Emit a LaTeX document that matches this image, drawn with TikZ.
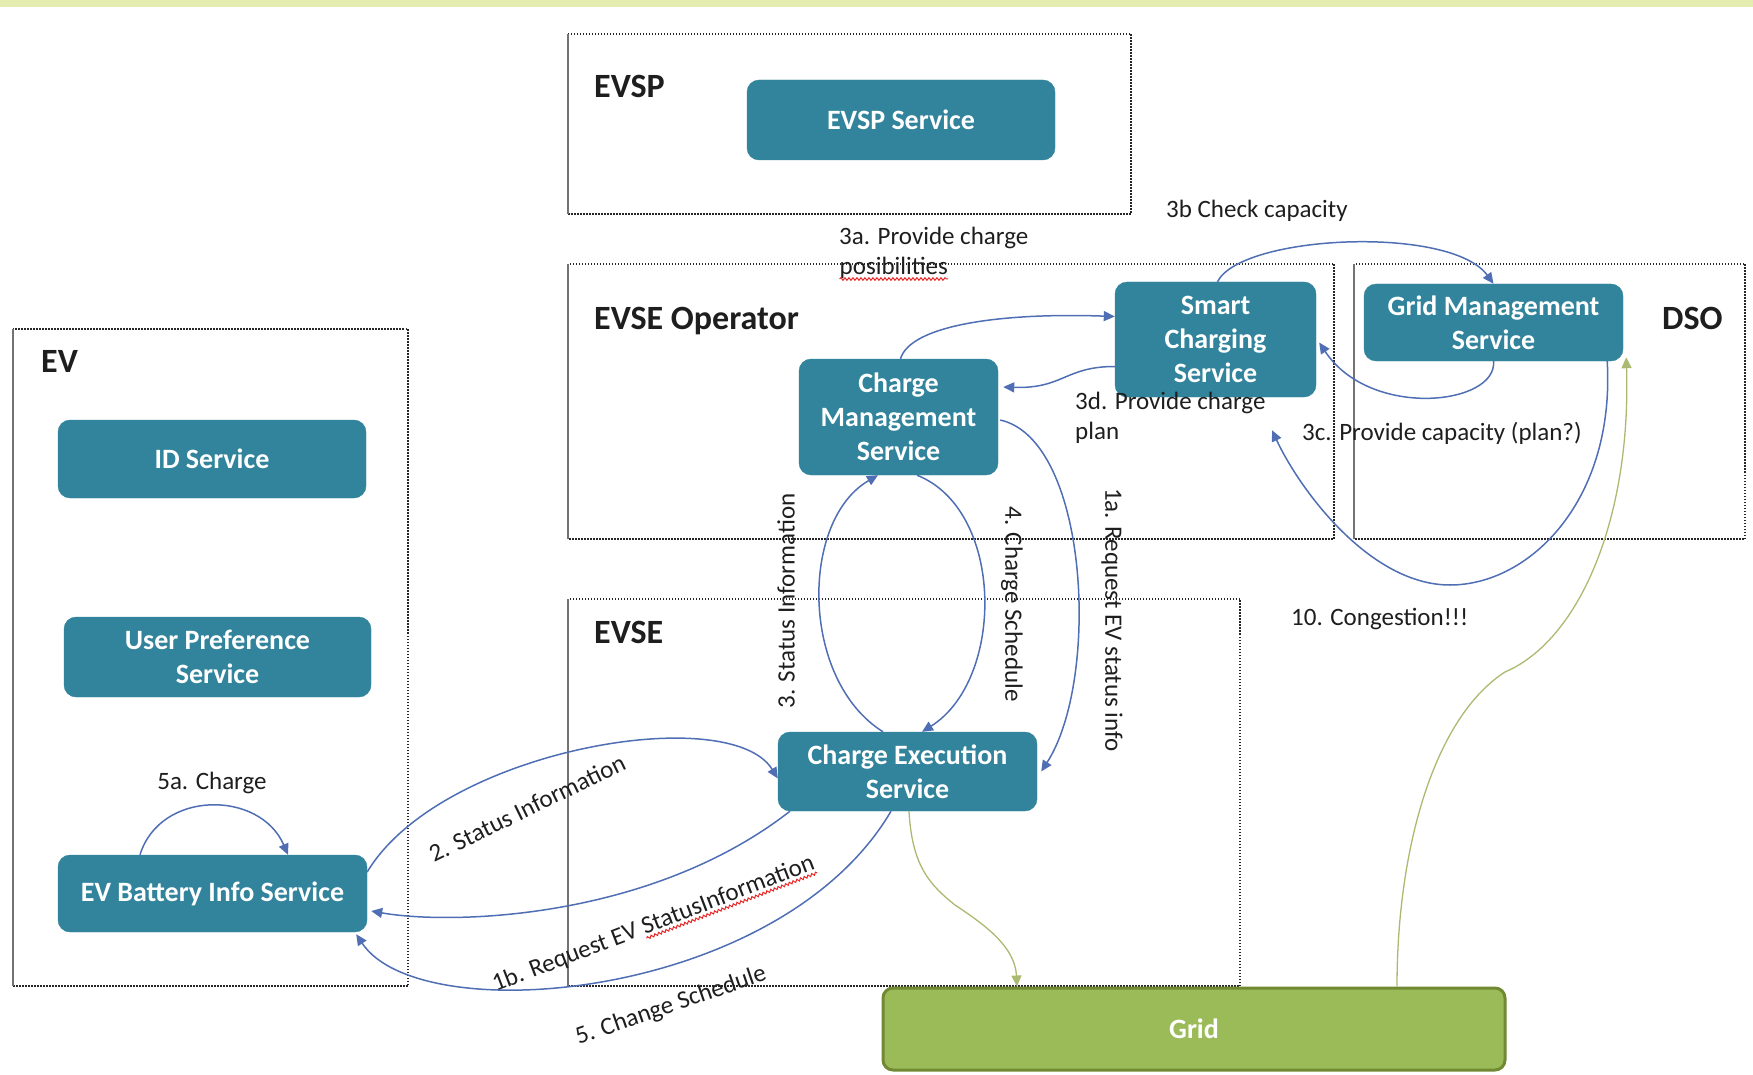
\documentclass[tikz,border=0pt]{standalone}
\usepackage{fontspec}
\setmainfont{Carlito}
\usetikzlibrary{arrows.meta,decorations.pathmorphing}
\definecolor{svcteal}{RGB}{49,132,155}
\definecolor{gridfill}{RGB}{155,187,89}
\definecolor{griddraw}{RGB}{113,137,51}
\definecolor{flowblue}{RGB}{80,110,180}
\definecolor{flowgreen}{RGB}{170,186,112}
\definecolor{bandgreen}{RGB}{228,236,176}
\definecolor{txtdark}{RGB}{30,30,30}
\definecolor{wavyred}{RGB}{230,40,40}
\newcommand\svcfont{\fontsize{28}{34}\selectfont\bfseries}
\newcommand\hdrfont{\fontsize{34}{40}\selectfont\bfseries}
\newcommand\lblfont{\fontsize{25}{30}\selectfont}
\newcommand\wavyul[1]{\tikz[baseline=(wv.base)]{\node[inner sep=0pt,outer sep=0pt,anchor=base](wv){#1};\draw[wavyred,line width=1pt,decorate,decoration={snake,amplitude=1.3pt,segment length=4pt}]([yshift=-4pt]wv.base west)--([yshift=-4pt]wv.base east);}}
\begin{document}
\begin{tikzpicture}[x=1pt,y=-1pt,
  svc/.style={rectangle,rounded corners=12pt,fill=svcteal,draw=svcteal,text=white,font=\svcfont,align=center,inner sep=0pt},
  hdr/.style={font=\hdrfont,text=txtdark,inner sep=0pt,anchor=base west},
  lbl/.style={font=\lblfont,text=txtdark,inner sep=0pt},
  flow/.style={draw=flowblue,line width=1.5pt,-{Triangle[length=11pt,width=10pt]}},
  gflow/.style={draw=flowgreen,line width=1.3pt,-{Triangle[length=11pt,width=10pt]}},
  frame/.style={draw=black!85,line width=1.5pt,dash pattern=on 1.5pt off 1.5pt},
  frameleft/.style={draw=black!55,line width=1.2pt}]
\useasboundingbox (0,0) rectangle (1753,1075);
\fill[bandgreen] (0,0) rectangle (1753,7);

% containers
\draw[frame] (568,34) rectangle (1131,214);
\draw[frameleft] (568,34) -- (568,214);
\draw[frame] (568,264) rectangle (1334,539);
\draw[frameleft] (568,264) -- (568,539);
\draw[frame] (1354,264) rectangle (1745,539);
\draw[frameleft] (1354,264) -- (1354,539);
\draw[frame] (13,329) rectangle (408,986);
\draw[frameleft] (13,329) -- (13,986);
\draw[frame] (568,599) rectangle (1240,986);
\draw[frameleft] (568,599) -- (568,986);

\node[hdr] (hevsp) at (594,98) {EVSP};
\node[hdr] (hevseop) at (594,329) {EVSE Operator};
\node[hdr] (hdso) at (1662,329) {DSO};
\node[hdr] (hev) at (41,372) {EV};
\node[hdr] (hevse) at (594,643) {EVSE};

% services
\node[svc,minimum width=308pt,minimum height=80pt] (evsp) at (901,120) {EVSP Service};
\node[svc,minimum width=201pt,minimum height=115pt] (scs) at (1215.5,339.5) {Smart\\Charging\\Service};
\node[svc,minimum width=199pt,minimum height=116pt] (cms) at (898.5,417) {Charge\\Management\\Service};
\node[svc,minimum width=259pt,minimum height=77pt] (gms) at (1493.5,322.5) {Grid Management\\Service};
\node[svc,minimum width=308pt,minimum height=78pt] (ids) at (212,459) {ID Service};
\node[svc,minimum width=307pt,minimum height=80pt] (ups) at (217.5,657) {User Preference\\Service};
\node[svc,minimum width=309pt,minimum height=77pt] (evb) at (212.5,893.5) {EV Battery Info Service};
\node[svc,minimum width=259pt,minimum height=79pt] (ces) at (907.5,771.5) {Charge Execution\\Service};
\node[svc,fill=gridfill,draw=griddraw,line width=3pt,rounded corners=10pt,minimum width=622pt,minimum height=82pt] (grid) at (1194,1029) {Grid};

% blue flows
\draw[flow] ([xshift=2pt]cms.north) .. controls +(10,-34) and +(-112,-4) .. ([yshift=23pt]scs.west);
\draw[flow] ([xshift=2pt]scs.north) .. controls +(23,-47) and +(-43,-59) .. (gms.north);
\draw[flow] (gms.south) .. controls +(4,44) and +(51,77) .. ([xshift=3pt,yshift=-3pt]scs.east);
\draw[flow] ([yshift=-27pt]scs.west) .. controls +(-50,0) and +(60,2) .. ([xshift=5pt,yshift=30pt]cms.east);
\draw[flow] ([xshift=2pt,yshift=-3pt]cms.east) .. controls +(89,20) and +(59,-91) .. ([xshift=4pt]ces.east);
\draw[flow] ([xshift=-24.5pt]ces.north) .. controls +(-83,-52) and +(-78,45) .. ([xshift=-20.5pt]cms.south);
\draw[flow] ([xshift=18.5pt]cms.south) .. controls +(88,35) and +(83,-52) .. ([xshift=14.5pt]ces.north);
\draw[flow] ([yshift=21.5pt]evb.east) .. controls +(73,-122) and +(-48,-78) .. ([yshift=-7pt]ces.west);
\draw[flow] ([xshift=-117.5pt]ces.south) .. controls +(-140,109) and +(79,14) .. ([xshift=4pt,yshift=-17.5pt]evb.east);
\draw[flow] ([xshift=-16.5pt]ces.south) .. controls +(-111,189) and +(64,97) .. ([xshift=-11pt,yshift=-2pt]evb.south east);
\draw[flow] ([xshift=-72.5pt]evb.north) .. controls +(20,-65) and +(-28,-65) .. ([xshift=75.5pt]evb.north);
\coordinate (c10) at (1450,585);
\draw[flow] ([xshift=-16pt]gms.south east) .. controls +(8,139) and +(80,0) .. (c10) .. controls +(-80,0) and +(28,60) .. ([xshift=56.5pt,yshift=-33pt]scs.south);

% green flows
\coordinate (gb1) at (955,905);
\draw[gflow] ([xshift=1.5pt]ces.south) .. controls +(3,55) and +(-25,-20) .. (gb1) .. controls +(30,20) and +(-2,-40) .. ([xshift=-177pt]grid.north);
\coordinate (gb2) at (1505,672);
\draw[gflow] ([xshift=203pt]grid.north) .. controls +(0,-140) and +(-70,45) .. (gb2) .. controls +(75,-32) and +(5,160) .. ([xshift=3pt,yshift=4pt]gms.south east);

% labels
\node[lbl,anchor=base west,align=left] (l3a) at (839,275) {3a. Provide charge\\\wavyul{posibilities}};
\node[lbl,anchor=base west] (l3b) at (1166,218) {3b Check capacity};
\node[lbl,anchor=base west,align=left] (l3d) at (1075,439) {3d. Provide charge\\plan};
\node[lbl,anchor=base west] (l3c) at (1302,440) {3c. Provide capacity (plan?)};
\node[lbl,anchor=base west] (l10) at (1291,625) {10. Congestion!!!};
\node[lbl,anchor=base] (l5a) at (212,789) {5a. Charge};
\node[lbl,rotate=-90] (l1a) at (1112,620) {1a. Request EV status info};
\node[lbl,rotate=-90] (l4) at (1012,604) {4. Charge Schedule};
\node[lbl,rotate=90] (l3) at (786,601) {3. Status Information};
\node[lbl,rotate=26] (l2) at (527,808) {2. Status Information};
\node[lbl,rotate=21] (l1b) at (654,925) {1b. Request EV \wavyul{StatusInformation}};
\node[lbl,rotate=19] (l5) at (671,1006) {5. Change Schedule};
\end{tikzpicture}
\end{document}
